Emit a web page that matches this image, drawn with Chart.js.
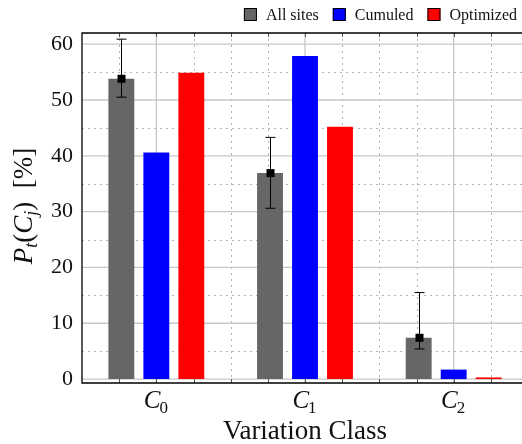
<!DOCTYPE html>
<html>
<head>
<meta charset="utf-8">
<script src="https://cdn.jsdelivr.net/npm/chart.js@4.4.1/dist/chart.umd.min.js"></script>
<style>
  html, body { margin: 0; padding: 0; background: #fff; overflow: hidden; }
  #wrap { width: 522px; height: 444px; overflow: hidden; }
  canvas { display: block; }
</style>
</head>
<body>
<div id="wrap"><canvas id="chart" width="528" height="444"></canvas></div>
<script>
// data
const categories = ['C0', 'C1', 'C2'];
const seriesLabels = ['All sites', 'Cumuled', 'Optimized'];
const allSites = [53.8, 36.9, 7.4];
const cumuled = [40.6, 57.9, 1.7];
const optimized = [54.9, 45.2, 0.3];
const errLow = [50.5, 30.6, 5.4];
const errHigh = [60.9, 43.3, 15.5];
const yTicks = [0, 10, 20, 30, 40, 50, 60];
const yMinorTicks = [5, 15, 25, 35, 45, 55];
const xMinor = [-0.25, 0.25, 0.5, 0.75, 1.25, 1.5, 1.75, 2.25];

const colors = ['#666666', '#0000ff', '#ff0000'];
const SERIF = '"Liberation Serif", "DejaVu Serif", serif';

// grid, frame, ticks
const gridPlugin = {
    id: 'grid',
    beforeDatasetsDraw(chart) {
        const { ctx, chartArea: a, scales: { x, y } } = chart;
        ctx.save();
        ctx.lineWidth = 1;
        // dotted minor lines
        ctx.strokeStyle = '#b4b4b4';
        ctx.setLineDash([2, 4]);
        yMinorTicks.forEach(v => {
            const py = Math.round(y.getPixelForValue(v)) + 0.5;
            ctx.beginPath(); ctx.moveTo(a.left, py); ctx.lineTo(a.right, py); ctx.stroke();
        });
        xMinor.forEach(v => {
            const px = Math.round(x.getPixelForValue(v)) + 0.5;
            ctx.beginPath(); ctx.moveTo(px, a.top); ctx.lineTo(px, a.bottom); ctx.stroke();
        });
        // solid major lines
        ctx.setLineDash([]);
        ctx.strokeStyle = '#c8c8c8';
        ctx.lineWidth = 1.3;
        yTicks.forEach(v => {
            const py = y.getPixelForValue(v);
            ctx.beginPath(); ctx.moveTo(a.left, py); ctx.lineTo(a.right, py); ctx.stroke();
        });
        categories.forEach((c, i) => {
            const px = x.getPixelForValue(i);
            ctx.beginPath(); ctx.moveTo(px, a.top); ctx.lineTo(px, a.bottom); ctx.stroke();
        });
        ctx.restore();
    },
    afterDatasetsDraw(chart) {
        const { ctx, chartArea: a, scales: { x, y } } = chart;
        ctx.save();
        // error bars on "All sites"
        const meta = chart.getDatasetMeta(0);
        ctx.strokeStyle = '#000';
        ctx.fillStyle = '#000';
        ctx.lineWidth = 1;
        meta.data.forEach((bar, i) => {
            const bx = Math.round(bar.x) + 0.5;
            const lo = y.getPixelForValue(errLow[i]);
            const hi = y.getPixelForValue(errHigh[i]);
            ctx.beginPath();
            ctx.moveTo(bx, lo); ctx.lineTo(bx, hi);
            ctx.moveTo(bx - 5, lo); ctx.lineTo(bx + 5, lo);
            ctx.moveTo(bx - 5, hi); ctx.lineTo(bx + 5, hi);
            ctx.stroke();
            const my = y.getPixelForValue(allSites[i]);
            ctx.fillRect(bx - 4, my - 4, 8, 8);
        });
        // tick marks
        ctx.strokeStyle = '#555';
        ctx.lineWidth = 1;
        xMinor.concat([0, 1, 2]).forEach(v => {
            const px = Math.round(x.getPixelForValue(v)) + 0.5;
            ctx.beginPath();
            ctx.moveTo(px, a.bottom); ctx.lineTo(px, a.bottom - 4);
            ctx.moveTo(px, a.top); ctx.lineTo(px, a.top + 4);
            ctx.stroke();
        });
        // frame
        ctx.strokeStyle = '#000';
        ctx.lineWidth = 1.3;
        ctx.beginPath();
        ctx.moveTo(a.right, a.top); ctx.lineTo(a.left, a.top);
        ctx.lineTo(a.left, a.bottom); ctx.lineTo(a.right, a.bottom);
        ctx.stroke();

        // x tick labels C_i
        ctx.fillStyle = '#111';
        ctx.textBaseline = 'alphabetic';
        categories.forEach((c, i) => {
            const px = x.getPixelForValue(i);
            ctx.font = 'italic 25px ' + SERIF;
            const w1 = ctx.measureText(c[0]).width;
            ctx.font = '17px ' + SERIF;
            const w2 = ctx.measureText(c.slice(1)).width;
            const sx = px - (w1 + w2) / 2;
            ctx.font = 'italic 25px ' + SERIF;
            ctx.fillText(c[0], sx, 408);
            ctx.font = '17px ' + SERIF;
            ctx.fillText(c.slice(1), sx + w1 - 1, 413);
        });

        // x title
        ctx.font = '27px ' + SERIF;
        ctx.textAlign = 'center';
        ctx.fillText('Variation Class', x.getPixelForValue(1), 439);
        ctx.textAlign = 'left';

        // y title  P_t(C_j)  [%]
        const parts = [
            ['P', 'italic 27px', 0], ['t', 'italic 18px', 5], ['(', '27px', 0],
            ['C', 'italic 27px', 0], ['j', 'italic 18px', 5], [')', '27px', 0],
            ['\u2002[%]', '27px', 0]
        ];
        let total = 0;
        parts.forEach(p => { ctx.font = p[1] + ' ' + SERIF; total += ctx.measureText(p[0]).width; });
        ctx.translate(32, 206);
        ctx.rotate(-Math.PI / 2);
        let cx = -total / 2;
        parts.forEach(p => {
            ctx.font = p[1] + ' ' + SERIF;
            ctx.fillText(p[0], cx, p[2]);
            cx += ctx.measureText(p[0]).width;
        });
        ctx.restore();

        // legend, right aligned at the top
        ctx.save();
        ctx.font = '16px ' + SERIF;
        ctx.textBaseline = 'alphabetic';
        let rx = 517;
        for (let k = seriesLabels.length - 1; k >= 0; k--) {
            const tw = ctx.measureText(seriesLabels[k]).width;
            ctx.fillStyle = '#111';
            ctx.fillText(seriesLabels[k], rx - tw, 20);
            const bx = rx - tw - 22;
            ctx.fillStyle = colors[k];
            ctx.fillRect(bx, 8, 13, 13);
            ctx.strokeStyle = '#000';
            ctx.lineWidth = 1;
            ctx.strokeRect(bx + 0.5, 8.5, 12, 12);
            rx = bx - 14;
        }
        ctx.restore();
    }
};

new Chart(document.getElementById('chart'), {
    type: 'bar',
    data: {
        labels: categories,
        datasets: [
            { label: seriesLabels[0], data: allSites, backgroundColor: colors[0] },
            { label: seriesLabels[1], data: cumuled, backgroundColor: colors[1] },
            { label: seriesLabels[2], data: optimized, backgroundColor: colors[2] }
        ]
    },
    options: {
        responsive: false,
        animation: false,
        devicePixelRatio: 1,
        layout: { padding: { top: 33, left: 0, right: 0, bottom: 0 } },
        datasets: { bar: { categoryPercentage: 0.706, barPercentage: 0.74, borderWidth: 0 } },
        scales: {
            x: {
                ticks: { display: false },
                grid: { display: false },
                border: { display: false },
                afterFit: s => { s.height = 61; }
            },
            y: {
                min: -0.7,
                max: 62,
                afterBuildTicks: s => { s.ticks = yTicks.map(v => ({ value: v })); },
                ticks: { color: '#111', padding: 9, font: { family: SERIF, size: 22 } },
                grid: { display: false, drawTicks: false },
                border: { display: false },
                afterFit: s => { s.width = 82; }
            }
        },
        plugins: { legend: { display: false }, tooltip: { enabled: false } }
    },
    plugins: [gridPlugin]
});
</script>
</body>
</html>
